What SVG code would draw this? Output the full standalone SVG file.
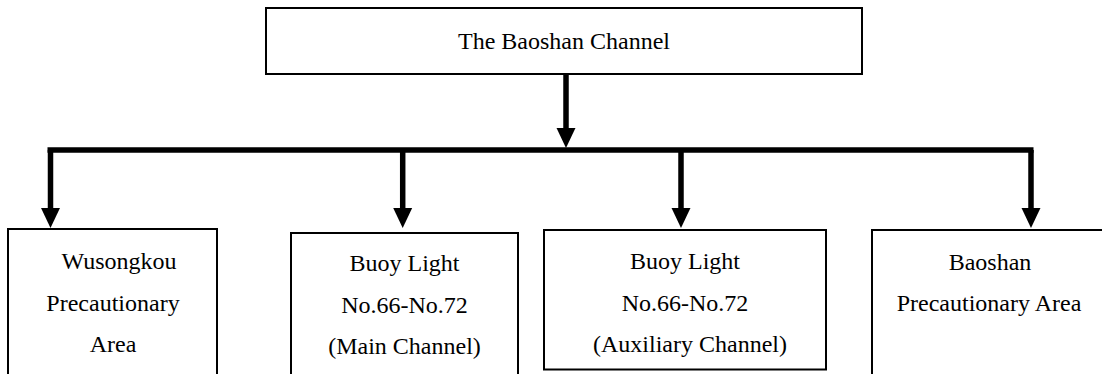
<svg xmlns="http://www.w3.org/2000/svg" width="1102" height="374" viewBox="0 0 1102 374">
<style>
.box{fill:#fff;stroke:#000;stroke-width:2}
.t{font-family:"Liberation Serif","Times New Roman",Times,serif;font-size:24px;fill:#000;text-anchor:middle}
.c{stroke:#000;stroke-width:5.5;fill:none}
</style>
<defs>
<marker id="ah" markerUnits="userSpaceOnUse" markerWidth="20" markerHeight="20" viewBox="0 0 19 18" refX="0" refY="9" orient="auto">
<path d="M0,0 L19,9 L0,18 Z" fill="#000"/>
</marker>
</defs>
<rect width="1102" height="374" fill="#fff"/>
<g id="root">
<rect class="box" x="266" y="8" width="596" height="66"/>
<text class="t" x="564" y="49">The Baoshan Channel</text>
</g>
<g id="n1">
<rect class="box" x="8" y="229" width="209" height="160"/>
<text class="t" x="119" y="269">Wusongkou</text>
<text class="t" x="113" y="311">Precautionary</text>
<text class="t" x="113" y="352">Area</text>
</g>
<g id="n2">
<rect class="box" x="291" y="233" width="227" height="160"/>
<text class="t" x="404.5" y="271">Buoy Light</text>
<text class="t" x="404.5" y="313">No.66-No.72</text>
<text class="t" x="404.5" y="354">(Main Channel)</text>
</g>
<g id="n3">
<rect class="box" x="544" y="230" width="282" height="139.5"/>
<text class="t" x="685" y="269">Buoy Light</text>
<text class="t" x="685" y="311">No.66-No.72</text>
<text class="t" x="690" y="352">(Auxiliary Channel)</text>
</g>
<g id="n4">
<rect class="box" x="872" y="230" width="234" height="160"/>
<text class="t" x="990" y="270">Baoshan</text>
<text class="t" x="989" y="311">Precautionary Area</text>
</g>
<g id="connectors">
<line class="c" x1="566" y1="74" x2="566" y2="128" marker-end="url(#ah)"/>
<line class="c" x1="47.5" y1="150" x2="1033.5" y2="150"/>
<line class="c" x1="50.5" y1="150" x2="50.5" y2="208" marker-end="url(#ah)"/>
<line class="c" x1="402.7" y1="150" x2="402.7" y2="208" marker-end="url(#ah)"/>
<line class="c" x1="681" y1="150" x2="681" y2="208" marker-end="url(#ah)"/>
<line class="c" x1="1031" y1="150" x2="1031" y2="208" marker-end="url(#ah)"/>
</g>
</svg>
